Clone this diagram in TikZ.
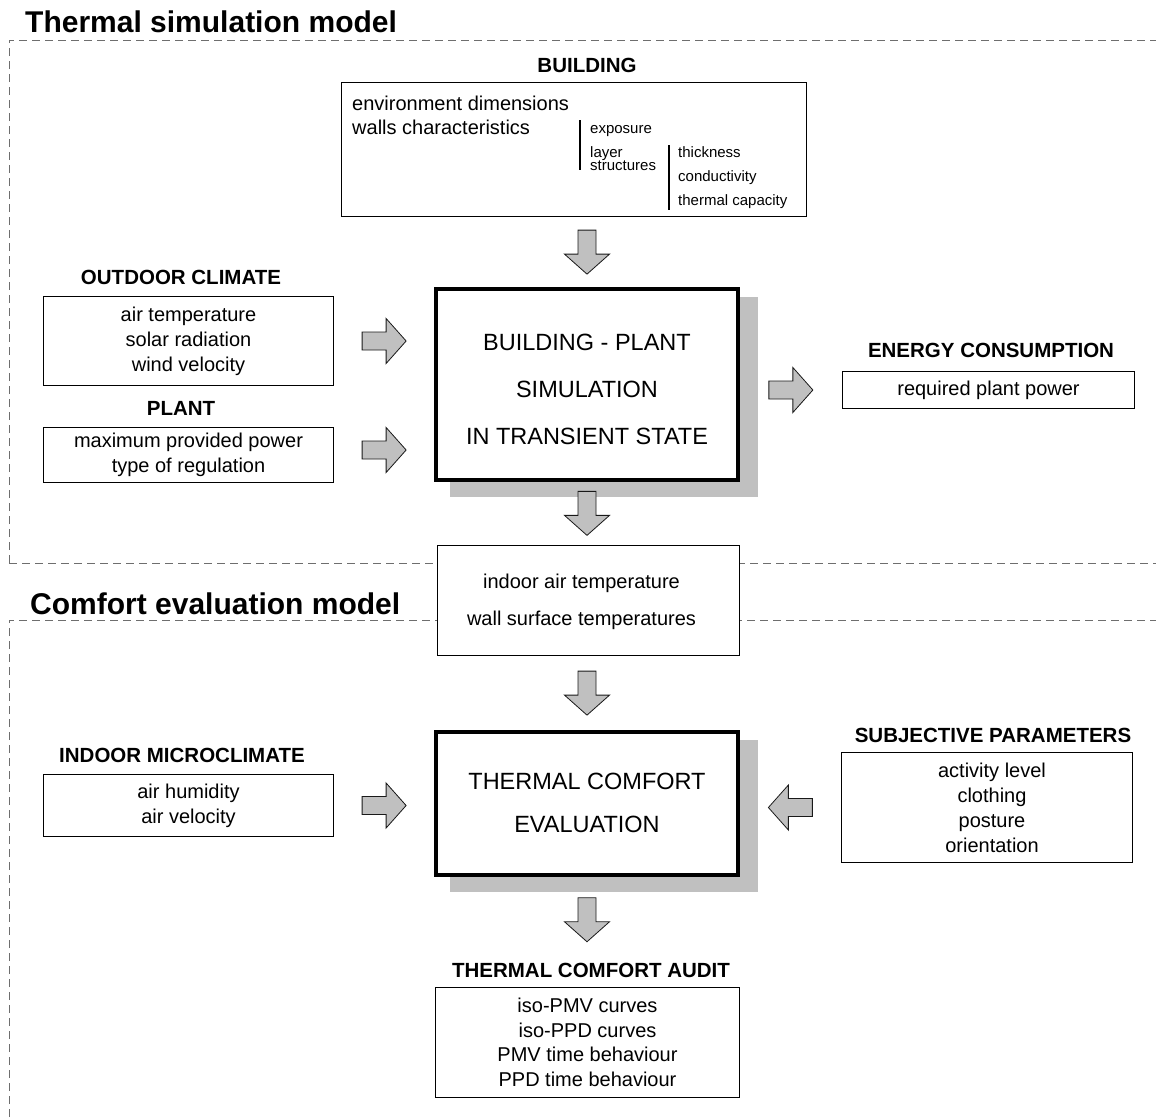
\documentclass[tikz,border=0pt]{standalone}
\usepackage{fontspec}
\setmainfont{Liberation Sans}
\usetikzlibrary{calc}
\definecolor{arrowgray}{HTML}{C0C0C0}
\definecolor{shadowgray}{HTML}{C0C0C0}
\definecolor{dashgray}{HTML}{6E6E6E}
\newcommand\fbody{\fontsize{20}{25}\selectfont}
\newcommand\fttl{\fontsize{20.5}{24}\selectfont\bfseries}
\newcommand\fsmall{\fontsize{15}{15}\selectfont}
\newcommand\fbig{\fontsize{30}{34}\selectfont\bfseries}
\newcommand\fmainbox{\fontsize{23.5}{47}\selectfont}
\tikzset{
  box/.style={draw, line width=1.5pt, fill=white, inner sep=0pt, align=center, font=\fbody},
  mainbox/.style={draw, line width=4pt, fill=white, inner sep=0pt},
  maintext/.style={inner sep=0pt, align=center},
  ttl/.style={inner sep=0pt, anchor=base, font=\fttl},
  bigttl/.style={inner sep=0pt, anchor=base west, font=\fbig},
  intext/.style={inner sep=0pt, anchor=base west},
  dashline/.style={draw=dashgray, line width=1pt, dash pattern=on 8pt off 5pt},
  sepline/.style={line width=1.5pt},
  shadowfill/.style={fill=shadowgray},
  barrow/.pic={\draw[line width=0.8pt, draw=black!90, fill=arrowgray, line join=miter]
     (-22,-9) -- (2,-9) -- (2,-22.5) -- (22,0) -- (2,22.5) -- (2,9) -- (-22,9) -- cycle;},
  onpath/.style={pos=0.5, sloped, allow upside down},
}
\begin{document}
\begin{tikzpicture}[x=1pt,y=-1pt]
\useasboundingbox (0,0) rectangle (1156,1117);

% section frames
\draw[dashline] (9,563) -- (9,40) -- (1156,40);
\draw[dashline] (9,563) -- (1156,563);
\draw[dashline] (9,1117) -- (9,620) -- (1156,620);
\node[bigttl] (t1) at (25,32) {Thermal simulation model};
\node[bigttl] (t2) at (30,614) {Comfort evaluation model};

% BUILDING
\node[ttl] (buildingT) at (587,72) {BUILDING};
\node[box, minimum width=465pt, minimum height=134pt] (building) at (574,149.5) {};
\node[intext, font=\fbody] (b1) at (352,110) {environment dimensions};
\node[intext, font=\fbody] (b2) at (352,134) {walls characteristics};
\draw[sepline] (580,120) -- (580,170);
\node[intext, font=\fsmall] (b3) at (590,133) {exposure};
\node[intext, font=\fsmall] (b4) at (590,157) {layer};
\node[intext, font=\fsmall] (b5) at (590,170) {structures};
\draw[sepline] (669,145) -- (669,210);
\node[intext, font=\fsmall] (b6) at (678,157) {thickness};
\node[intext, font=\fsmall] (b7) at (678,181) {conductivity};
\node[intext, font=\fsmall] (b8) at (678,205) {thermal capacity};

% OUTDOOR CLIMATE
\node[ttl] (outdoorT) at (181,284) {OUTDOOR CLIMATE};
\node[box, minimum width=290pt, minimum height=89pt] (outdoor) at (188.5,341)
  {air temperature\\solar radiation\\wind velocity};

% PLANT
\node[ttl] (plantT) at (181,415) {PLANT};
\node[box, minimum width=290pt, minimum height=55pt] (plant) at (188.5,455)
  {maximum provided power\\type of regulation};
\coordinate (plantE) at ([yshift=5pt]plant.east);

% SIMULATION
\fill[shadowfill] (450,297) rectangle (758,497);
\node[mainbox, minimum width=302pt, minimum height=191pt] (sim) at (587,384.5) {};
\node[maintext, font=\fmainbox] (simtxt) at ($(sim.center)+(0,5)$)
  {BUILDING - PLANT\\SIMULATION\\IN TRANSIENT STATE};

% ENERGY CONSUMPTION
\node[ttl] (energyT) at (991,357) {ENERGY CONSUMPTION};
\node[box, minimum width=292pt, minimum height=37pt] (energy) at (988.5,390)
  {required plant power};

% INDOOR
\node[box, minimum width=302pt, minimum height=110pt] (indoor) at (588.5,600.5) {};
\node[maintext, font=\fontsize{20}{37}\selectfont] (indoortxt) at ($(indoor.center)+(-7,1)$)
  {indoor air temperature\\wall surface temperatures};

% THERMAL COMFORT EVALUATION
\fill[shadowfill] (450,740) rectangle (758,892);
\node[mainbox, minimum width=302pt, minimum height=143pt] (eval) at (587,803.5) {};
\node[maintext, font=\fontsize{23.5}{43}\selectfont] (evaltxt) at ($(eval.center)+(0,-1)$)
  {THERMAL COMFORT\\EVALUATION};

% INDOOR MICROCLIMATE
\node[ttl] (microT) at (182,762) {INDOOR MICROCLIMATE};
\node[box, minimum width=290pt, minimum height=62pt] (micro) at (188.5,805.5)
  {air humidity\\air velocity};

% SUBJECTIVE PARAMETERS
\node[ttl] (subjT) at (993,742) {SUBJECTIVE PARAMETERS};
\node[box, minimum width=291pt, minimum height=110pt] (subj) at (987,807.5) {};
\node[maintext, font=\fbody] (subjtxt) at ($(subj.center)+(5,0)$)
  {activity level\\clothing\\posture\\orientation};

% THERMAL COMFORT AUDIT
\node[ttl] (auditT) at (591,977) {THERMAL COMFORT AUDIT};
\node[box, minimum width=304pt, minimum height=110pt, font=\fontsize{20}{24.5}\selectfont] (audit) at (587.5,1042.5)
  {iso-PMV curves\\iso-PPD curves\\PMV time behaviour\\PPD time behaviour};

% block arrows
\path (sim.north |- building.south) -- (sim.north) pic[onpath]{barrow};
\path (outdoor.east) -- (sim.west |- outdoor.east) pic[onpath]{barrow};
\path (plantE) -- (sim.west |- plantE) pic[onpath]{barrow};
\path (sim.east |- energy.west) -- (energy.west) pic[onpath]{barrow};
\path (sim.south) -- (sim.south |- indoor.north) pic[onpath]{barrow};
\path (eval.north |- indoor.south) -- (eval.north) pic[onpath]{barrow};
\path (micro.east) -- (eval.west |- micro.east) pic[onpath]{barrow};
\path (subj.west) -- (eval.east |- subj.west) pic[onpath]{barrow};
\path (eval.south) -- (eval.south |- auditT.north) pic[onpath]{barrow};
\end{tikzpicture}
\end{document}
